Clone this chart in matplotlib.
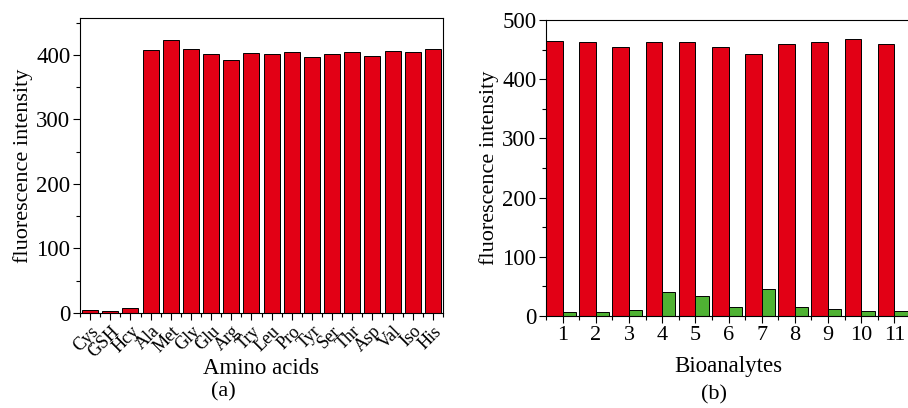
import numpy as np
import matplotlib.pyplot as plt
from matplotlib.ticker import MultipleLocator

plt.rcParams['font.family'] = ['Liberation Serif', 'DejaVu Serif']

# panel (a) data
amino = ['Cys', 'GSH', 'Hcy', 'Ala', 'Met', 'Gly', 'Glu', 'Arg', 'Try', 'Leu',
         'Pro', 'Tyr', 'Ser', 'Thr', 'Asp', 'Val', 'Iso', 'His']
amino_vals = [5, 3, 8, 408, 423, 409, 402, 392, 403, 402,
              405, 396, 401, 405, 398, 406, 405, 409]

# panel (b) data
analytes = [str(i) for i in range(1, 12)]
red_vals = [464, 463, 454, 462, 462, 454, 443, 460, 463, 468, 460]
green_vals = [7, 7, 10, 41, 34, 15, 46, 16, 11, 8, 8]

red = '#e20015'
green = '#4fb233'

fig = plt.figure(figsize=(9.08, 4.08), dpi=100)

# --- (a)
ax1 = fig.add_axes([80 / 908, 95 / 408, 363 / 908, 295 / 408])
x = np.arange(len(amino))
ax1.bar(x, amino_vals, width=0.8, color=red, edgecolor='black', linewidth=0.7)
ax1.set_xlim(-0.5, len(amino) - 0.5)
ax1.set_ylim(0, 457)
ax1.set_xticks(x)
ax1.set_xticklabels(amino, rotation=45, ha='right', rotation_mode='anchor', fontsize=13)
ax1.xaxis.set_minor_locator(MultipleLocator(0.5))
ax1.yaxis.set_major_locator(MultipleLocator(100))
ax1.yaxis.set_minor_locator(MultipleLocator(50))
ax1.tick_params(axis='y', labelsize=16.5)
ax1.set_ylabel('fluorescence intensity', fontsize=16, labelpad=2)
ax1.set_xlabel('Amino acids', fontsize=16.5, labelpad=-2)
fig.text(223 / 908, 1 - 392 / 408, '(a)', fontsize=16, ha='center', va='center')

# --- (b)
ax2 = fig.add_axes([546 / 908, 92 / 408, 365 / 908, 296 / 408])
xb = np.arange(1, len(analytes) + 1)
ax2.bar(xb - 0.25, red_vals, width=0.5, color=red, edgecolor='black', linewidth=0.7)
ax2.bar(xb + 0.2, green_vals, width=0.4, color=green, edgecolor='black', linewidth=0.7)
ax2.set_xlim(0.5, 11.5)
ax2.set_ylim(0, 500)
ax2.set_xticks(xb)
ax2.set_xticklabels(analytes, fontsize=16)
ax2.xaxis.set_minor_locator(MultipleLocator(0.5))
ax2.yaxis.set_major_locator(MultipleLocator(100))
ax2.yaxis.set_minor_locator(MultipleLocator(50))
ax2.tick_params(axis='y', labelsize=16.5)
ax2.set_ylabel('fluorescence intensity', fontsize=16, labelpad=2)
ax2.set_xlabel('Bioanalytes', fontsize=16.5, labelpad=8)
fig.text(714 / 908, 1 - 395 / 408, '(b)', fontsize=16, ha='center', va='center')

for ax in (ax1, ax2):
    ax.tick_params(which='major', direction='out', length=5, width=0.8, pad=2)
    ax.tick_params(which='minor', direction='out', length=3, width=0.8)
    for s in ax.spines.values():
        s.set_linewidth(0.8)

fig.savefig('out.png', dpi=100)
